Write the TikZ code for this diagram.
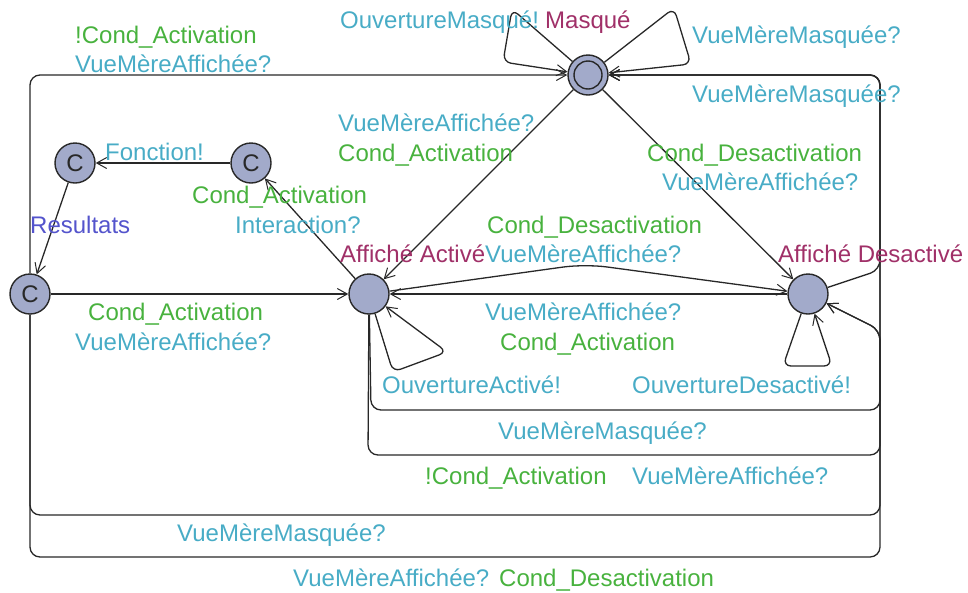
\documentclass[tikz,border=0pt]{standalone}
\usepackage{fontspec}
\setmainfont{Liberation Sans}
\usetikzlibrary{arrows.meta}
\definecolor{grd}{RGB}{72,178,62}
\definecolor{syn}{RGB}{72,172,198}
\definecolor{nam}{RGB}{160,48,104}
\definecolor{asg}{RGB}{84,84,204}
\definecolor{locfill}{RGB}{162,170,202}
\definecolor{ink}{RGB}{40,40,40}
\begin{document}
\begin{tikzpicture}[x=1pt,y=-1pt,
  loc/.style={circle,draw=ink,line width=1.4pt,fill=locfill,minimum size=40pt,inner sep=0pt,
              font=\fontsize{24}{28}\selectfont,text=ink},
  edge/.style={draw=ink,line width=1.3pt,-{Straight Barb[length=10pt,width=11pt,line width=1pt]}},
  lbl/.style={anchor=base west,inner sep=0pt,font=\fontsize{24}{28}\selectfont},
  grdlbl/.style={lbl,text=grd},
  synlbl/.style={lbl,text=syn},
  namlbl/.style={lbl,text=nam},
  asglbl/.style={lbl,text=asg}]
\useasboundingbox (0,0) rectangle (968,592);

% locations
\node[loc] (M) at (588,75) {};
\draw[ink,line width=1.4pt] (M.center) circle (14pt);
\node[loc] (A) at (369,294) {};
\node[loc] (D) at (808,294) {};
\node[loc] (C1) at (75,163) {C};
\node[loc] (C2) at (251,163) {C};
\node[loc] (C3) at (30,294) {C};

% straight edges
\draw[edge] (C2) -- (C1);
\draw[edge] (C1) -- (C3);
\draw[edge] (A) -- (C2);
\draw[edge] (C3) -- (A);
\draw[edge] (M) -- (A);
\draw[edge] (M) -- (D);
\draw[edge] (D) -- (A);
\draw[edge,rounded corners=22pt] (A) -- (585,264) -- (D);

% routed edges
\draw[edge,rounded corners=10pt] (C3) -- (30,75) -- (M);
\draw[edge,rounded corners=10pt] (D) -- (880,270) -- (880,75) -- (M);
\draw[edge,rounded corners=10pt] (A) -- (371,410) -- (880,410) -- (880,75) -- (M);
\draw[edge,rounded corners=10pt] (A) -- (368,455) -- (880,455) -- (880,330) -- (D);
\draw[edge,rounded corners=10pt] (C3) -- (30,515) -- (880,515) -- (880,75) -- (M);
\draw[edge,rounded corners=10pt] (C3) -- (30,557) -- (880,557) -- (880,330) -- (D);

% self loops
\draw[edge,rounded corners=8pt] (A) -- (393,372) -- (447,352) -- (A);
\draw[edge,rounded corners=8pt] (D) -- (783,366) -- (832,366) -- (D);
\draw[edge,rounded corners=8pt] (M) -- (512,9) -- (503,62) -- (M);
\draw[edge,rounded corners=8pt] (M) -- (674,8) -- (691,64) -- (M);

% location names
\node[namlbl] (nM) at (545,28) {Masqué};
\node[namlbl] (nA) at (340,262) {Affiché Activé};
\node[namlbl] (nD) at (778,262) {Affiché Desactivé};

% labels
\node[grdlbl] at (75,43) {!Cond\_Activation};
\node[synlbl] at (75,72) {VueMèreAffichée?};
\node[synlbl] at (340,28) {OuvertureMasqué!};
\node[synlbl] at (692,43) {VueMèreMasquée?};
\node[synlbl] at (692,102) {VueMèreMasquée?};
\node[synlbl] at (338,131) {VueMèreAffichée?};
\node[grdlbl] at (338,161) {Cond\_Activation};
\node[synlbl] at (105,160) {Fonction!};
\node[grdlbl] at (192,203) {Cond\_Activation};
\node[synlbl] at (235,233) {Interaction?};
\node[asglbl] at (30,233) {Resultats};
\node[grdlbl] at (487,233) {Cond\_Desactivation};
\node[synlbl] at (485,262) {VueMèreAffichée?};
\node[grdlbl] at (647,161) {Cond\_Desactivation};
\node[synlbl] at (662,190) {VueMèreAffichée?};
\node[grdlbl] at (88,320) {Cond\_Activation};
\node[synlbl] at (75,350) {VueMèreAffichée?};
\node[synlbl] at (485,320) {VueMèreAffichée?};
\node[grdlbl] at (500,350) {Cond\_Activation};
\node[synlbl] at (382,393) {OuvertureActivé!};
\node[synlbl] at (632,393) {OuvertureDesactivé!};
\node[synlbl] at (498,439) {VueMèreMasquée?};
\node[grdlbl] at (425,484) {!Cond\_Activation};
\node[synlbl] at (632,484) {VueMèreAffichée?};
\node[synlbl] at (177,541) {VueMèreMasquée?};
\node[synlbl] at (293,586) {VueMèreAffichée?};
\node[grdlbl] at (499,586) {Cond\_Desactivation};
\end{tikzpicture}
\end{document}
